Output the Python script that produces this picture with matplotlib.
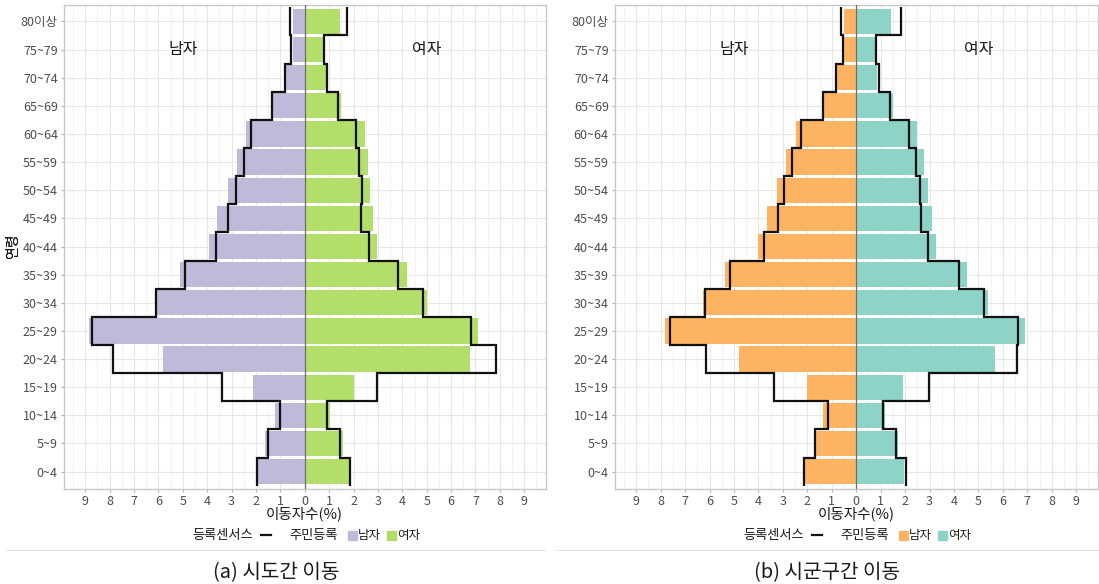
import numpy as np
import matplotlib
matplotlib.use("Agg")
import matplotlib.pyplot as plt
from matplotlib.lines import Line2D
from matplotlib.patches import Rectangle

plt.rcParams['font.family'] = ['Noto Sans CJK KR', 'DejaVu Sans']

age_groups = ["0~4", "5~9", "10~14", "15~19", "20~24", "25~29", "30~34",
              "35~39", "40~44", "45~49", "50~54", "55~59", "60~64",
              "65~69", "70~74", "75~79", "80이상"]

# (a) 시도간 이동: 주민등록 (bars) vs 등록센서스 (step outline), % of movers
sido_male_reg = [1.90, 1.61, 1.22, 2.12, 5.81, 8.85, 6.05, 5.10, 3.94,
                 3.60, 3.15, 2.78, 2.42, 1.30, 0.75, 0.50, 0.50]
sido_male_census = [1.96, 1.52, 1.03, 3.39, 7.87, 8.73, 6.10, 4.90, 3.62,
                    3.13, 2.83, 2.49, 2.20, 1.33, 0.81, 0.55, 0.60]
sido_female_reg = [1.82, 1.55, 1.03, 2.01, 6.79, 7.09, 5.02, 4.19, 2.98,
                   2.79, 2.68, 2.61, 2.48, 1.48, 0.86, 0.75, 1.46]
sido_female_census = [1.85, 1.44, 0.93, 2.97, 7.84, 6.81, 4.85, 3.82, 2.63,
                      2.30, 2.33, 2.22, 2.12, 1.38, 0.93, 0.77, 1.75]

# (b) 시군구간 이동
sigungu_male_reg = [2.09, 1.73, 1.35, 2.02, 4.81, 7.84, 6.28, 5.37, 4.03,
                    3.65, 3.26, 2.86, 2.45, 1.32, 0.78, 0.50, 0.50]
sigungu_male_census = [2.15, 1.68, 1.16, 3.38, 6.15, 7.60, 6.20, 5.17, 3.78,
                       3.22, 2.96, 2.63, 2.26, 1.35, 0.83, 0.56, 0.63]
sigungu_female_reg = [1.96, 1.71, 1.17, 1.91, 5.66, 6.92, 5.40, 4.52, 3.25,
                      3.08, 2.92, 2.76, 2.48, 1.51, 0.86, 0.78, 1.41]
sigungu_female_census = [2.03, 1.64, 1.09, 2.96, 6.56, 6.63, 5.22, 4.19, 2.92,
                         2.63, 2.62, 2.43, 2.17, 1.38, 0.93, 0.82, 1.83]

x_ticks = list(range(-9, 10))
x_tick_labels = [str(abs(v)) for v in x_ticks]

panels = [
    dict(caption="(a) 시도간 이동", male=sido_male_reg, female=sido_female_reg,
         male_c=sido_male_census, female_c=sido_female_census,
         c_male="#bebada", c_female="#b3de69"),
    dict(caption="(b) 시군구간 이동", male=sigungu_male_reg, female=sigungu_female_reg,
         male_c=sigungu_male_census, female_c=sigungu_female_census,
         c_male="#fdb462", c_female="#8dd3c7"),
]

W, H = 1099, 584
fig = plt.figure(figsize=(W / 100, H / 100), dpi=100)


def fx(x):
    return x / W


def fy(y):
    return 1 - y / H


tick_col = "#4d4d4d"
axes_px = [(64, 4.5, 545.5, 488.5), (615, 4.5, 1097.5, 488.5)]
sub_px = [(7, 545), (557, 1098)]

for p, (l, t, r, b), (sl, sr) in zip(panels, axes_px, sub_px):
    ax = fig.add_axes([fx(l), fy(b), (r - l) / W, (b - t) / H])
    n = len(age_groups)
    ypos = np.arange(n)
    male = np.array(p["male"])
    female = np.array(p["female"])

    ax.barh(ypos, -male, height=0.9, color=p["c_male"], zorder=2)
    ax.barh(ypos, female, height=0.9, color=p["c_female"], zorder=2)
    ax.axvline(0, color="#6e6e6e", lw=0.9, zorder=3)

    edges = np.arange(n + 1) - 0.5
    ax.stairs(-np.array(p["male_c"]), edges, orientation="horizontal",
              baseline=None, color="#111111", lw=1.6, zorder=4)
    ax.stairs(np.array(p["female_c"]), edges, orientation="horizontal",
              baseline=None, color="#111111", lw=1.6, zorder=4)

    ax.text(-5, 15, "남자", ha="center", va="center", fontsize=11.5, color="#1a1a1a")
    ax.text(5, 15, "여자", ha="center", va="center", fontsize=11.5, color="#1a1a1a")

    ax.set_xlim(-9.87, 9.87)
    ax.set_ylim(-0.6, n - 0.4)
    ax.set_xticks(x_ticks)
    ax.set_xticklabels(x_tick_labels)
    ax.set_xticks(np.arange(-9.5, 10, 1.0), minor=True)
    ax.set_yticks(ypos)
    ax.set_yticklabels(age_groups)
    ax.tick_params(axis="both", which="major", labelsize=9, labelcolor=tick_col,
                   color="#b3b3b3", length=2.5, width=0.8, pad=2)
    ax.tick_params(axis="both", which="minor", length=0)
    ax.grid(True, which="major", color="#e6e6e6", lw=0.8, zorder=0)
    ax.grid(True, which="minor", axis="x", color="#f0f0f0", lw=0.6, zorder=0)
    ax.set_axisbelow(True)
    for s in ax.spines.values():
        s.set_color("#c8c8c8")
        s.set_linewidth(1.0)

    ax.set_xlabel("이동자수(%)", fontsize=10.5, color="#1a1a1a")
    ax.xaxis.set_label_coords(0.5, (b - 513.5) / (b - t))
    ax.xaxis.label.set_va("center")
    ax.set_ylabel("연령", fontsize=10, color="#1a1a1a")
    ax.yaxis.set_label_coords((13 - l) / (r - l), 0.5)
    ax.yaxis.label.set_va("center")

    # legend row, laid out in pixels relative to the panel
    off = l - 64
    ly = 535
    fig.text(fx(192 + off), fy(ly), "등록센서스", ha="left", va="center",
             fontsize=9.5, color="#1a1a1a")
    fig.add_artist(Line2D([fx(261 + off), fx(271 + off)], [fy(ly), fy(ly)],
                          transform=fig.transFigure, color="#111111", lw=1.6))
    fig.text(fx(289 + off), fy(ly), "주민등록", ha="left", va="center",
             fontsize=9.5, color="#1a1a1a")
    fig.add_artist(Rectangle((fx(348 + off), fy(ly + 4.5)), 8.5 / W, 9 / H,
                             transform=fig.transFigure, color=p["c_male"]))
    fig.text(fx(358 + off), fy(ly), "남자", ha="left", va="center",
             fontsize=9, color="#1a1a1a")
    fig.add_artist(Rectangle((fx(387 + off), fy(ly + 4.5)), 8.5 / W, 9 / H,
                             transform=fig.transFigure, color=p["c_female"]))
    fig.text(fx(397 + off), fy(ly), "여자", ha="left", va="center",
             fontsize=9, color="#1a1a1a")

    # separator and caption
    fig.add_artist(Line2D([fx(sl), fx(sr)], [fy(549.5), fy(549.5)],
                          transform=fig.transFigure, color="#e3e3e3", lw=0.8))
    fig.text(fx((sl + sr) / 2), fy(573), p["caption"], ha="center", va="center",
             fontsize=14.5, color="#1a1a1a")

fig.savefig("out.png", dpi=100)
